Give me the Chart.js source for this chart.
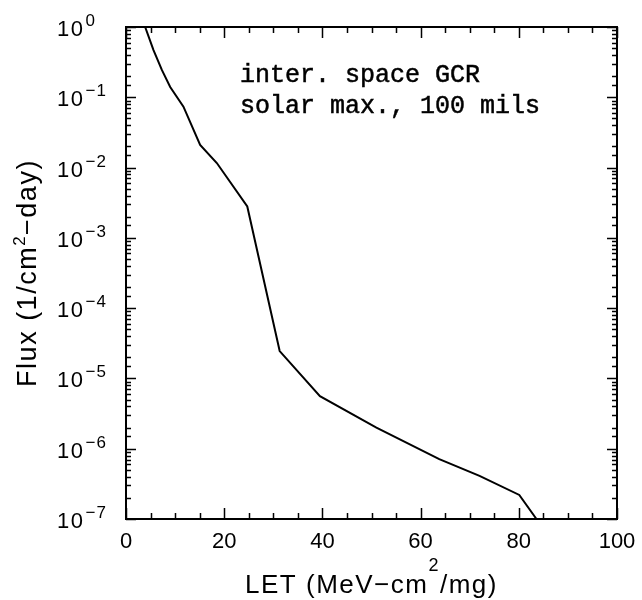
<!DOCTYPE html>
<html>
<head>
<meta charset="utf-8">
<script src="https://cdn.jsdelivr.net/npm/chart.js@4.4.0/dist/chart.umd.min.js"></script>
<style>html,body{margin:0;padding:0;background:#fff;}canvas{display:block;}</style>
</head>
<body>
<canvas id="c" width="642" height="600"></canvas>
<script>
// ---- data ----
const letValues  = [3.9, 5.6, 7.3, 9.0, 11.7, 15.1, 18.5, 24.7, 31.3, 39.5, 51.0, 63.8, 72.0, 80.1, 83.6];
const fluxValues = [1.0, 0.47, 0.245, 0.14, 0.0735, 0.021, 0.0116, 0.0028, 2.45e-5, 5.6e-6, 2.0e-6, 7.1e-7, 4.1e-7, 2.2e-7, 1.0e-7];

const xTickLabels = [0, 20, 40, 60, 80, 100];
const yTickValues = [1, 1e-1, 1e-2, 1e-3, 1e-4, 1e-5, 1e-6, 1e-7];
const yTickBase = '10';
const yTickExponents = ['0', '\u22121', '\u22122', '\u22123', '\u22124', '\u22125', '\u22126', '\u22127'];

const xTitle = 'LET (MeV\u2212cm\u00B2/mg)';
const yTitle = 'Flux (1/cm\u00B2\u2212day)';
const annotationLines = ['inter. space GCR', 'solar max., 100 mils'];

const SANS = '"Liberation Sans", Arial, Helvetica, sans-serif';
const MONO = '"Liberation Mono", "Courier New", monospace';

function isPow10(v) {
  const l = Math.log10(v);
  return Math.abs(l - Math.round(l)) < 1e-9;
}

// draws a string, rendering "²" as a raised smaller "2"; text centred on (0,0) baseline
function drawRich(ctx, text, size, supSize, rise, spacing) {
  const parts = text.split('\u00B2');
  const segs = [];
  parts.forEach((p, i) => {
    segs.push({t: p, sup: false});
    if (i < parts.length - 1) segs.push({t: '2', sup: true});
  });
  ctx.letterSpacing = spacing + 'px';
  let total = 0;
  segs.forEach(s => {
    ctx.font = (s.sup ? supSize : size) + 'px ' + SANS;
    s.w = ctx.measureText(s.t).width;
    total += s.w;
  });
  let x = -total / 2;
  ctx.textAlign = 'left';
  ctx.textBaseline = 'alphabetic';
  segs.forEach(s => {
    ctx.font = (s.sup ? supSize : size) + 'px ' + SANS;
    ctx.fillText(s.t, x, s.sup ? -rise : 0);
    x += s.w;
  });
  ctx.letterSpacing = '0px';
}

const framePlugin = {
  id: 'frame',
  afterDraw(chart) {
    const ctx = chart.ctx;
    const {left, right, top, bottom} = chart.chartArea;
    const xs = chart.scales.x, ys = chart.scales.y;
    ctx.save();
    ctx.strokeStyle = '#000';
    ctx.lineWidth = 1.5;
    ctx.beginPath();
    xs.ticks.forEach(t => {
      const px = Math.round(xs.getPixelForValue(t.value)) + 0.5;
      const len = xTickLabels.includes(t.value) ? 11 : 6;
      ctx.moveTo(px, bottom); ctx.lineTo(px, bottom - len);
      ctx.moveTo(px, top); ctx.lineTo(px, top + len);
    });
    ys.ticks.forEach(t => {
      const py = Math.round(ys.getPixelForValue(t.value)) + 0.5;
      const len = isPow10(t.value) ? 10 : 5;
      ctx.moveTo(left, py); ctx.lineTo(left + len, py);
      ctx.moveTo(right, py); ctx.lineTo(right - len, py);
    });
    ctx.stroke();
    ctx.lineWidth = 2;
    ctx.strokeRect(left, top, right - left, bottom - top);

    // y tick labels with superscript exponents
    ctx.fillStyle = '#000';
    yTickValues.forEach((v, i) => {
      const py = ys.getPixelForValue(v);
      ctx.letterSpacing = '1.5px';
      ctx.font = '22px ' + SANS;
      ctx.textAlign = 'left';
      ctx.textBaseline = 'alphabetic';
      const bx = 57;
      ctx.fillText(yTickBase, bx, py + 9);
      const w = ctx.measureText(yTickBase).width;
      ctx.letterSpacing = '1px';
      ctx.font = '17px ' + SANS;
      ctx.fillText(yTickExponents[i], bx + w + 1, py - 1);
      ctx.letterSpacing = '0px';
    });

    // x axis title
    ctx.save();
    ctx.translate((left + right) / 2, 593);
    drawRich(ctx, xTitle, 26, 18, 22, 1.5);
    ctx.restore();

    // y axis title
    ctx.save();
    ctx.translate(36, (top + bottom) / 2);
    ctx.rotate(-Math.PI / 2);
    drawRich(ctx, yTitle, 27, 17, 11, 1.5);
    ctx.restore();

    // annotation
    ctx.font = '25px ' + MONO;
    ctx.textAlign = 'left';
    ctx.textBaseline = 'alphabetic';
    ctx.letterSpacing = '0px';
    ctx.lineWidth = 0.5;
    annotationLines.forEach((s, i) => {
      ctx.fillText(s, left + 114, top + 55 + i * 31);
      ctx.strokeText(s, left + 114, top + 55 + i * 31);
    });
    ctx.restore();
  }
};

new Chart(document.getElementById('c'), {
  type: 'line',
  data: {
    datasets: [{
      data: letValues.map((x, i) => ({x: x, y: fluxValues[i]})),
      borderColor: '#000',
      borderWidth: 2,
      pointRadius: 0,
      tension: 0,
      fill: false
    }]
  },
  options: {
    responsive: false,
    animation: false,
    layout: {padding: {left: 0, right: 25, top: 27, bottom: 0}},
    plugins: {legend: {display: false}, tooltip: {enabled: false}},
    scales: {
      x: {
        type: 'linear', min: 0, max: 100,
        ticks: {
          stepSize: 5, autoSkip: false, maxRotation: 0, padding: 10,
          color: '#000', font: {family: SANS, size: 22},
          callback: v => xTickLabels.includes(v) ? String(v) : ''
        },
        grid: {display: false, drawTicks: false},
        border: {display: false},
        title: {display: false},
        afterFit: s => { s.height = 81; s.paddingLeft = 0; s.paddingRight = 0; }
      },
      y: {
        type: 'logarithmic', min: 1e-7, max: 1,
        ticks: {display: false},
        grid: {display: false, drawTicks: false},
        border: {display: false},
        afterFit: s => { s.width = 126; s.paddingTop = 0; s.paddingBottom = 0; }
      }
    }
  },
  plugins: [framePlugin]
});
</script>
</body>
</html>
